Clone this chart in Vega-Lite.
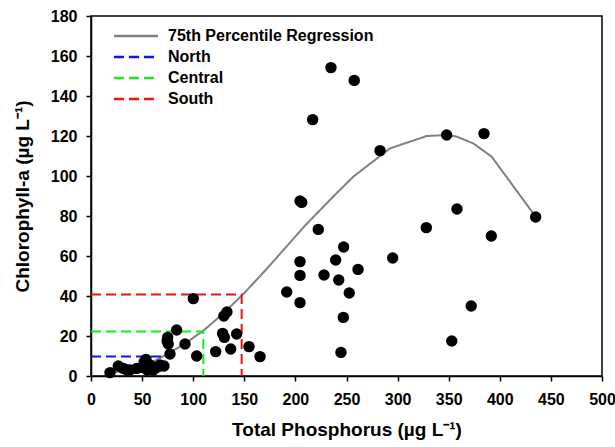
{
  "$schema": "https://vega.github.io/schema/vega-lite/v6.json",
  "autosize": "none",
  "width": 511,
  "height": 360,
  "padding": {"left": 91, "top": 16, "right": 13, "bottom": 71},
  "background": "white",
  "config": {
    "font": "Liberation Sans",
    "view": {"stroke": "black", "strokeWidth": 1.5},
    "axis": {"grid": false, "domainColor": "black", "domainWidth": 1.5, "tickColor": "black", "tickWidth": 1.5, "tickSize": 5, "labelFont": "Liberation Sans", "labelFontWeight": "bold", "labelFontSize": 16, "labelColor": "black", "labelOverlap": false, "labelFlush": false, "titleFont": "Liberation Sans", "titleFontWeight": "bold", "titleFontSize": 19, "titleColor": "black"}
  },
  "datasets": {
    "pts": [
      {"tp": 18.6, "chl": 1.7}, {"tp": 26.7, "chl": 5}, {"tp": 31.6, "chl": 3.8}, {"tp": 35, "chl": 3}, {"tp": 38.1, "chl": 3}, {"tp": 44.7, "chl": 3.8}, {"tp": 49.6, "chl": 4.3}, {"tp": 52, "chl": 7}, {"tp": 53.8, "chl": 8.3}, {"tp": 55, "chl": 3}, {"tp": 57.7, "chl": 5.5}, {"tp": 61, "chl": 3}, {"tp": 64.2, "chl": 4.3}, {"tp": 67.5, "chl": 5.5}, {"tp": 71.4, "chl": 5},
      {"tp": 75, "chl": 19.3}, {"tp": 75.6, "chl": 16}, {"tp": 74.5, "chl": 17.5}, {"tp": 77.3, "chl": 11}, {"tp": 83.8, "chl": 23}, {"tp": 92, "chl": 16}, {"tp": 100.1, "chl": 38.7}, {"tp": 103.4, "chl": 10},
      {"tp": 122, "chl": 12.2}, {"tp": 128.8, "chl": 21.3}, {"tp": 130.5, "chl": 19.3}, {"tp": 130, "chl": 30}, {"tp": 133, "chl": 32}, {"tp": 136.7, "chl": 13.5}, {"tp": 142.5, "chl": 21}, {"tp": 154.6, "chl": 14.7}, {"tp": 165.4, "chl": 9.7},
      {"tp": 191.5, "chl": 42}, {"tp": 204.5, "chl": 36.7}, {"tp": 204.5, "chl": 50.3}, {"tp": 204.5, "chl": 57.2}, {"tp": 204.5, "chl": 87.5}, {"tp": 206.2, "chl": 86.8}, {"tp": 216.9, "chl": 128.2}, {"tp": 222.4, "chl": 73.3}, {"tp": 228, "chl": 50.5}, {"tp": 234.8, "chl": 154.2}, {"tp": 239.4, "chl": 58}, {"tp": 242.4, "chl": 48}, {"tp": 244.6, "chl": 11.8}, {"tp": 246.9, "chl": 29.3}, {"tp": 247.2, "chl": 64.5}, {"tp": 252.7, "chl": 41.5}, {"tp": 257.6, "chl": 147.8}, {"tp": 261.3, "chl": 53.3},
      {"tp": 282.8, "chl": 112.7}, {"tp": 295.2, "chl": 59}, {"tp": 328.1, "chl": 74.2}, {"tp": 348, "chl": 120.5}, {"tp": 353, "chl": 17.5}, {"tp": 358.1, "chl": 83.5}, {"tp": 372, "chl": 35}, {"tp": 384.5, "chl": 121.2}, {"tp": 391.7, "chl": 70}, {"tp": 435.1, "chl": 79.5}
    ],
    "lines": [
      {"series": "75th Percentile Regression", "i": 1, "tp": 20, "chl": 1.5},
      {"series": "75th Percentile Regression", "i": 2, "tp": 40, "chl": 3.8},
      {"series": "75th Percentile Regression", "i": 3, "tp": 60, "chl": 7},
      {"series": "75th Percentile Regression", "i": 4, "tp": 70, "chl": 9.7},
      {"series": "75th Percentile Regression", "i": 5, "tp": 90, "chl": 15.5},
      {"series": "75th Percentile Regression", "i": 6, "tp": 110, "chl": 22.7},
      {"series": "75th Percentile Regression", "i": 7, "tp": 130, "chl": 31.5},
      {"series": "75th Percentile Regression", "i": 8, "tp": 150, "chl": 41.5},
      {"series": "75th Percentile Regression", "i": 9, "tp": 170, "chl": 52.5},
      {"series": "75th Percentile Regression", "i": 10, "tp": 190, "chl": 64},
      {"series": "75th Percentile Regression", "i": 11, "tp": 210, "chl": 75.5},
      {"series": "75th Percentile Regression", "i": 12, "tp": 237, "chl": 89.7},
      {"series": "75th Percentile Regression", "i": 13, "tp": 256.7, "chl": 99.7},
      {"series": "75th Percentile Regression", "i": 14, "tp": 292.6, "chl": 113.8},
      {"series": "75th Percentile Regression", "i": 15, "tp": 328.5, "chl": 120},
      {"series": "75th Percentile Regression", "i": 16, "tp": 348, "chl": 120.5},
      {"series": "75th Percentile Regression", "i": 17, "tp": 357.8, "chl": 119.7},
      {"series": "75th Percentile Regression", "i": 18, "tp": 374, "chl": 116.3},
      {"series": "75th Percentile Regression", "i": 19, "tp": 392, "chl": 109.7},
      {"series": "75th Percentile Regression", "i": 20, "tp": 435, "chl": 79.7},
      {"series": "North", "i": 1, "tp": 0, "chl": 9.7},
      {"series": "North", "i": 2, "tp": 68.5, "chl": 9.7},
      {"series": "North", "i": 3, "tp": 68.5, "chl": 0},
      {"series": "Central", "i": 1, "tp": 0, "chl": 22.3},
      {"series": "Central", "i": 2, "tp": 109.9, "chl": 22.3},
      {"series": "Central", "i": 3, "tp": 109.9, "chl": 0},
      {"series": "South", "i": 1, "tp": 0, "chl": 40.7},
      {"series": "South", "i": 2, "tp": 147.4, "chl": 40.7},
      {"series": "South", "i": 3, "tp": 147.4, "chl": 0}
    ]
  },
  "encoding": {
    "x": {"field": "tp", "type": "quantitative", "scale": {"domain": [0, 500], "nice": false}, "axis": {"values": [0, 50, 100, 150, 200, 250, 300, 350, 400, 450, 500], "labelOverlap": false, "title": "Total Phosphorus (µg L⁻¹)", "titlePadding": 13, "labelPadding": 10}},
    "y": {"field": "chl", "type": "quantitative", "scale": {"domain": [0, 180], "nice": false}, "axis": {"values": [0, 20, 40, 60, 80, 100, 120, 140, 160, 180], "tickCount": 10, "labelOverlap": false, "labelBound": false, "title": "Chlorophyll-a (µg L⁻¹)", "titlePadding": 18, "labelPadding": 9}}
  },
  "layer": [
    {
      "data": {"name": "lines"},
      "mark": {"type": "line", "strokeWidth": 2, "clip": true},
      "encoding": {
        "order": {"field": "i", "type": "quantitative"},
        "color": {"field": "series", "type": "nominal", "title": null,
          "scale": {"domain": ["75th Percentile Regression", "North", "Central", "South"], "range": ["#808080", "#1010ff", "#11ee11", "#ee1111"]},
          "legend": {"orient": "none", "legendX": 33, "legendY": 8, "symbolType": "M-2.1,0H2.1", "symbolSize": 441, "symbolStrokeWidth": 2.5, "labelFont": "Liberation Sans", "labelFontWeight": "bold", "labelFontSize": 16, "labelColor": "black", "labelLimit": 0, "rowPadding": 1, "labelOffset": 20}},
        "strokeDash": {"field": "series", "type": "nominal", "title": null,
          "scale": {"domain": ["75th Percentile Regression", "North", "Central", "South"], "range": [[1, 0], [10, 5], [10, 5], [10, 5]]},
          "legend": {"orient": "none", "legendX": 33, "legendY": 8, "symbolType": "M-2.1,0H2.1", "symbolSize": 441, "symbolStrokeWidth": 2.5, "labelFont": "Liberation Sans", "labelFontWeight": "bold", "labelFontSize": 16, "labelColor": "black", "labelLimit": 0, "rowPadding": 1, "labelOffset": 20}}
      }
    },
    {
      "data": {"name": "pts"},
      "mark": {"type": "circle", "size": 130, "color": "black", "opacity": 1},
      "encoding": {}
    }
  ]
}
